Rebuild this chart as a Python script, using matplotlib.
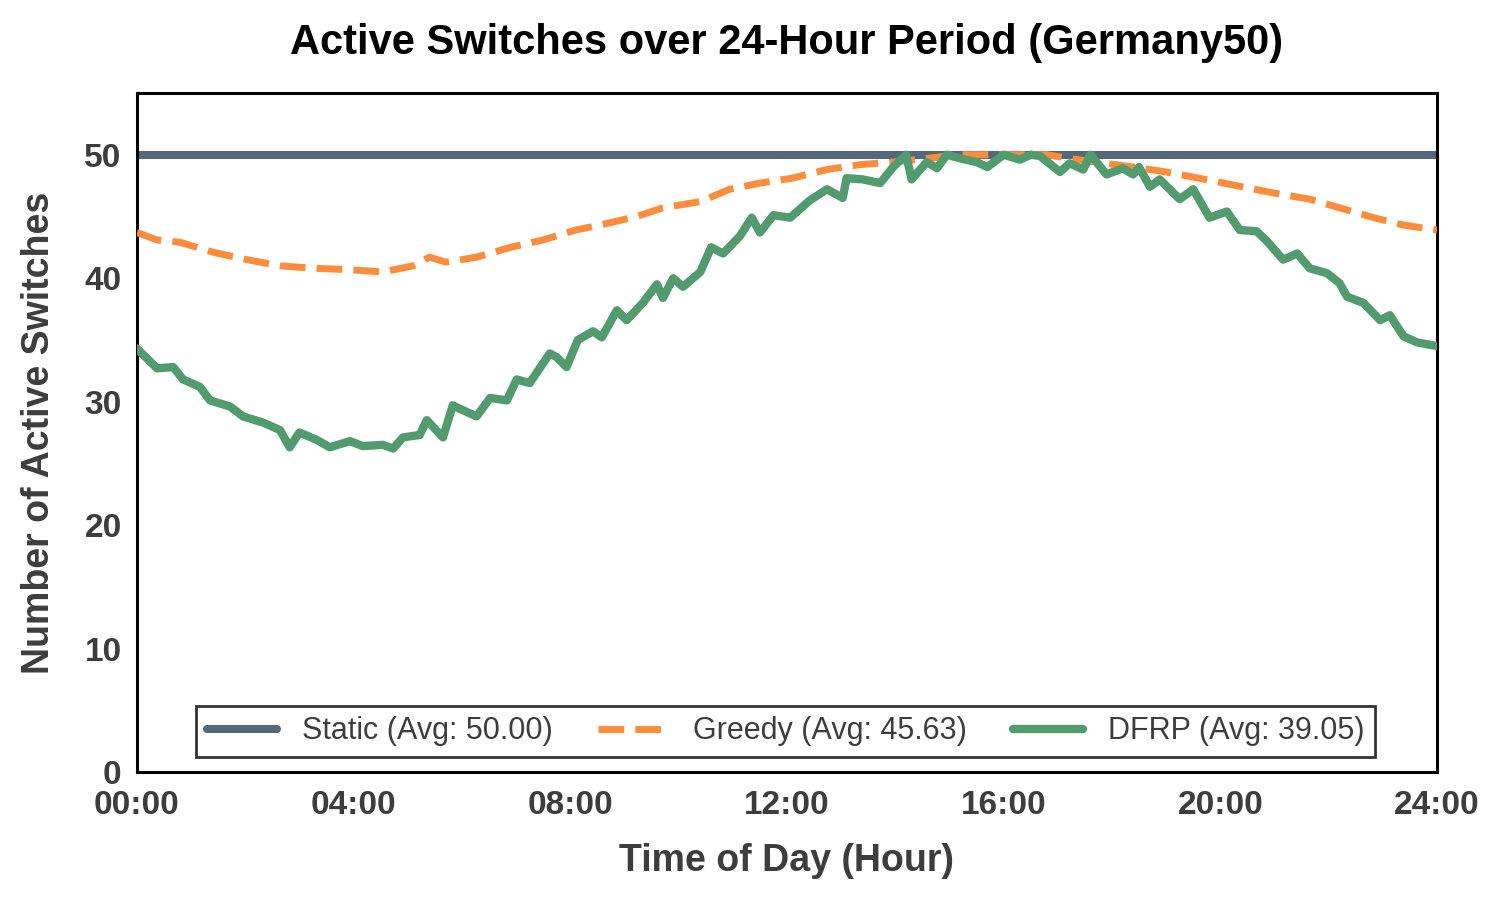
import numpy as np
import matplotlib
matplotlib.use("Agg")
import matplotlib.pyplot as plt

plt.rcParams['font.family'] = ['Liberation Sans', 'DejaVu Sans']

# hours and values
dfrp_hours = [0.0, 0.37, 0.67, 0.85, 1.16, 1.35, 1.72, 1.96, 2.33, 2.64, 2.82, 3.0, 3.32, 3.56,
              3.93, 4.17, 4.54, 4.73, 4.91, 5.22, 5.35, 5.65, 5.83, 6.02, 6.27, 6.52, 6.83, 7.01,
              7.25, 7.62, 7.75, 7.93, 8.14, 8.42, 8.58, 8.86, 9.04, 9.34, 9.6, 9.71, 9.9, 10.08,
              10.4, 10.6, 10.82, 11.13, 11.35, 11.5, 11.75, 12.06, 12.42, 12.74, 13.03, 13.1,
              13.4, 13.72, 13.96, 14.2, 14.3, 14.58, 14.77, 14.95, 15.2, 15.5, 15.7, 16.0, 16.3,
              16.5, 16.67, 17.04, 17.22, 17.47, 17.6, 17.9, 18.2, 18.39, 18.5, 18.7, 18.88, 19.25,
              19.5, 19.8, 20.12, 20.36, 20.67, 20.86, 21.16, 21.42, 21.65, 21.97, 22.2, 22.34,
              22.64, 22.95, 23.13, 23.38, 23.63, 24.0]
dfrp_vals = [34.3, 32.7, 32.8, 31.8, 31.2, 30.1, 29.6, 28.8, 28.3, 27.7, 26.3, 27.5, 26.9, 26.3,
             26.8, 26.4, 26.5, 26.2, 27.1, 27.3, 28.5, 27.1, 29.7, 29.3, 28.8, 30.3, 30.1, 31.8,
             31.5, 33.9, 33.6, 32.8, 35.0, 35.7, 35.2, 37.4, 36.6, 38.0, 39.5, 38.4, 40.0, 39.3,
             40.5, 42.5, 42.0, 43.4, 44.9, 43.7, 45.1, 44.9, 46.3, 47.2, 46.5, 48.1,
             48.0, 47.7, 49.0, 50.0, 48.0, 49.4, 48.9, 50.0, 49.7, 49.4, 49.0, 50.0, 49.6,
             50.0, 49.9, 48.6, 49.3, 48.8, 50.0, 48.4, 48.9, 48.4, 49.0, 47.4, 48.0, 46.4,
             47.2, 44.9, 45.4, 43.9, 43.8, 43.0, 41.5, 42.0, 40.8, 40.4, 39.6, 38.5,
             38.0, 36.6, 37.0, 35.3, 34.8, 34.5]

greedy_hours = [0, 0.37, 0.8, 1.41, 2.03, 2.64, 3.26, 3.87, 4.54, 5.1, 5.4, 5.7, 6.27, 6.9, 7.5,
                8.1, 8.55, 9.23, 9.71, 10.4, 10.94, 11.5, 12.1, 12.74, 13.36, 13.96, 14.58, 15.2,
                16.0, 16.8, 17.2, 17.7, 18.4, 19.0, 19.6, 20.18, 20.98, 21.65, 22.2, 22.83, 23.38, 24]
greedy_vals = [43.7, 43.1, 42.9, 42.1, 41.5, 41.0, 40.8, 40.7, 40.5, 41.0, 41.7, 41.3, 41.7, 42.5,
               43.1, 43.9, 44.3, 45.0, 45.7, 46.2, 47.2, 47.7, 48.1, 48.8, 49.2, 49.4, 49.7, 50.0,
               50.0, 50.0, 49.7, 49.4, 49.0, 48.6, 48.1, 47.6, 46.9, 46.4, 45.7, 44.9, 44.3, 43.9]

static_hours = [0, 24]
static_vals = [50, 50]

xtick_hours = [0, 4, 8, 12, 16, 20, 24]
xtick_labels = ['00:00', '04:00', '08:00', '12:00', '16:00', '20:00', '24:00']

fig = plt.figure(figsize=(14.95, 9), dpi=100)
ax = fig.add_axes([0.0916, 0.1422, 0.8696, 0.7545])

ax.plot(static_hours, static_vals, color='#566779', lw=5.8, solid_capstyle='round',
        label='Static (Avg: 50.00)', zorder=2)
ax.plot(greedy_hours, greedy_vals, color='#fd8d3c', lw=5, ls='--',
        label='Greedy (Avg: 45.63)', zorder=3)
ax.plot(dfrp_hours, dfrp_vals, color='#519b6f', lw=6, solid_capstyle='round',
        label='DFRP (Avg: 39.05)', zorder=4)

ax.set_xlim(0, 24)
ax.set_ylim(0, 55)
ax.set_xticks(xtick_hours)
ax.set_xticklabels(xtick_labels)
ax.set_yticks([0, 10, 20, 30, 40, 50])
ax.tick_params(length=0, labelsize=24, labelcolor='#3d3d3d')
ax.tick_params(axis='x', pad=13)
ax.tick_params(axis='y', pad=11)
for lab in ax.get_xticklabels() + ax.get_yticklabels():
    lab.set_fontweight('bold')

for sp in ax.spines.values():
    sp.set_color('black')
    sp.set_linewidth(2.2)

ax.set_title('Active Switches over 24-Hour Period (Germany50)', fontsize=30,
             fontweight='bold', color='black', pad=28)
ax.set_xlabel('Time of Day (Hour)', fontsize=27, fontweight='bold', color='#3d3d3d', labelpad=16)
ax.set_ylabel('Number of Active Switches', fontsize=27, fontweight='bold', color='#3d3d3d',
              labelpad=20)

leg = ax.legend(loc='lower center', bbox_to_anchor=(0.499, 0.022), ncol=3, fontsize=22,
                frameon=True, fancybox=False, edgecolor='black', handlelength=2.3,
                columnspacing=1.5, borderpad=0.35, handletextpad=0.8, borderaxespad=0)
leg.get_frame().set_linewidth(2)
for t in leg.get_texts():
    t.set_color('#3d3d3d')

fig.savefig('out.png', dpi=100, facecolor='white')
